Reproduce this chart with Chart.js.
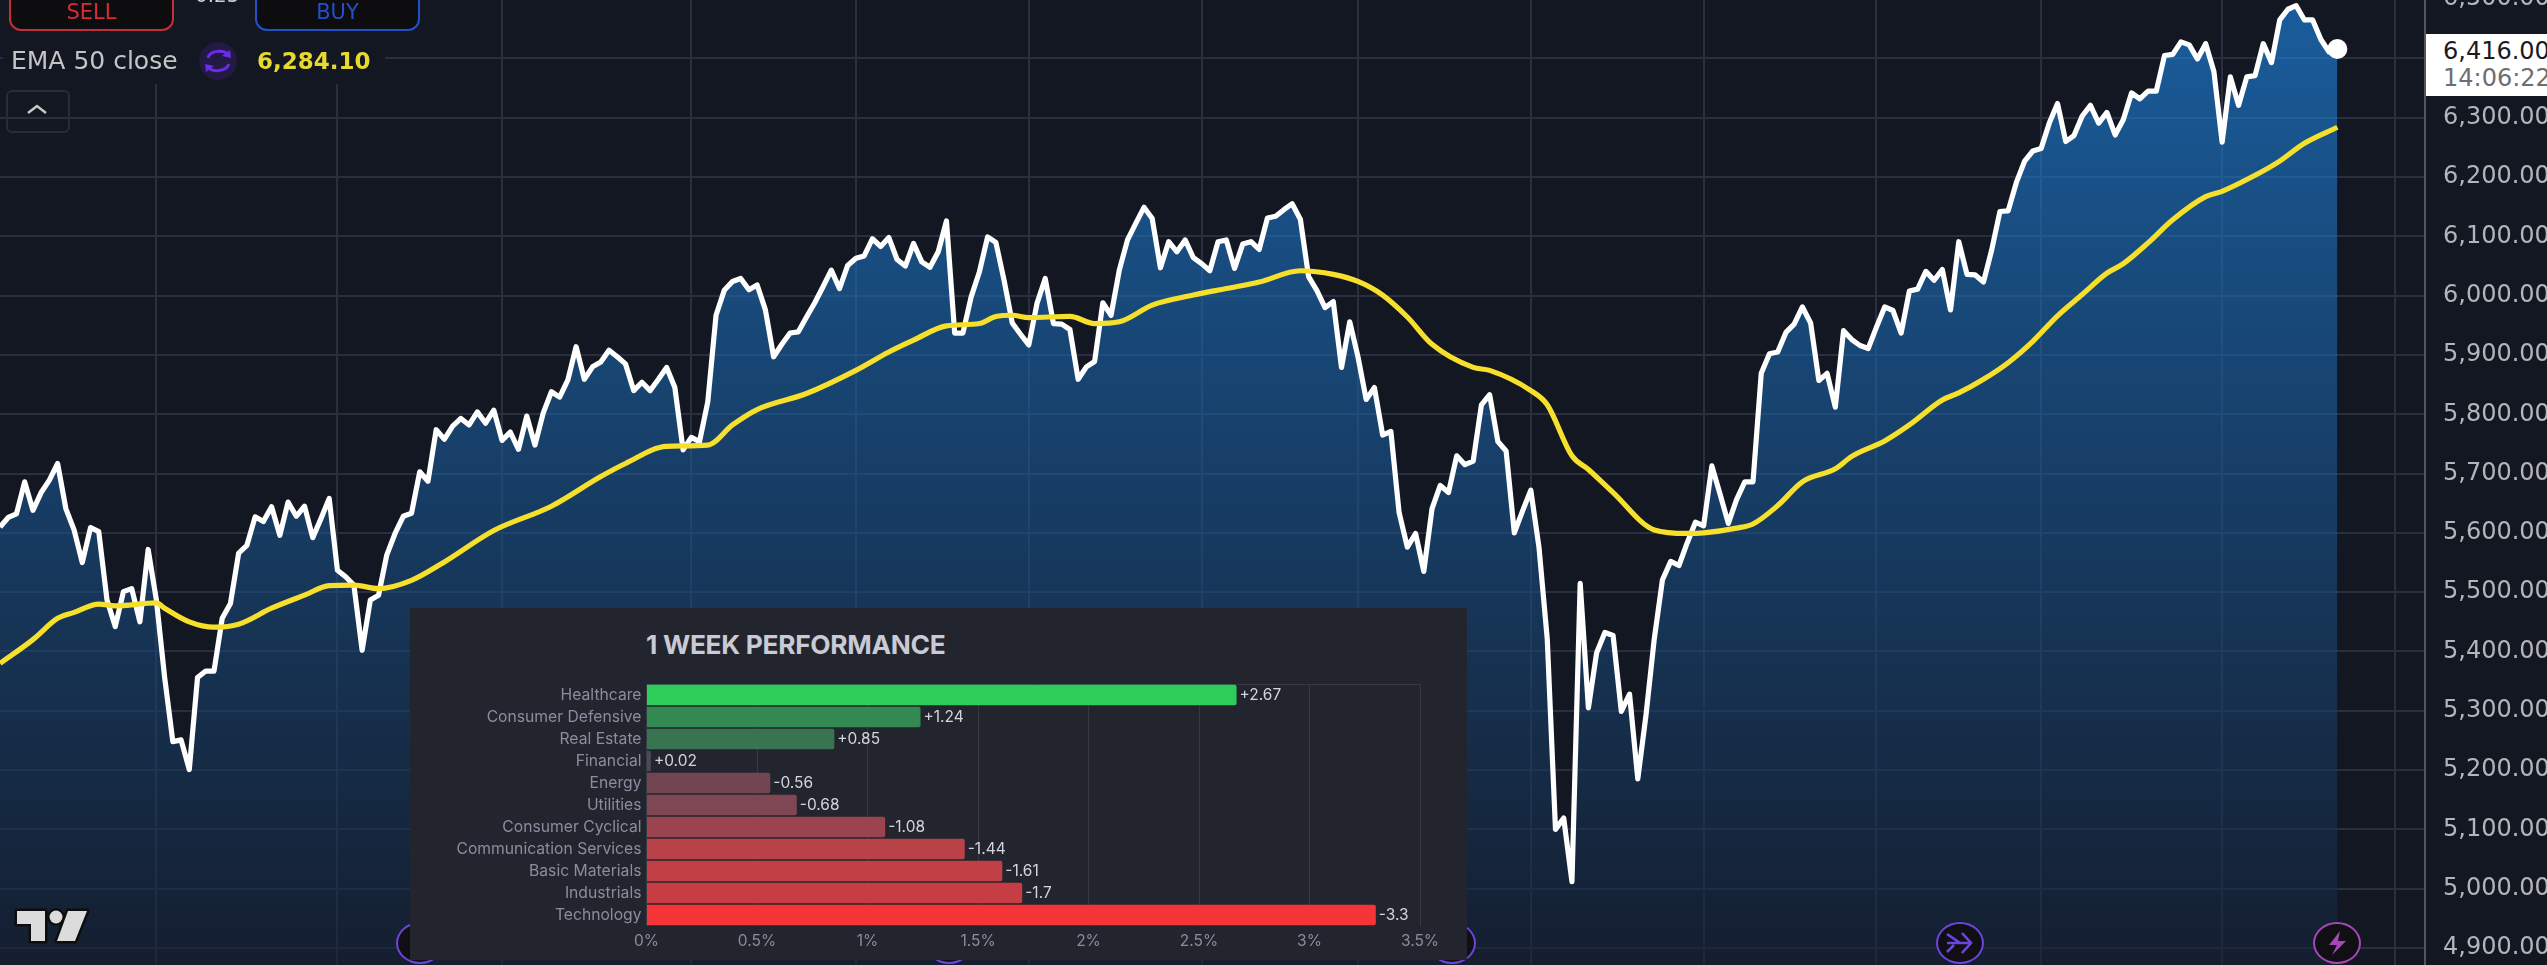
<!DOCTYPE html>
<html>
<head>
<meta charset="utf-8">
<title>S&amp;P 500 with EMA 50</title>
<script src="https://cdn.jsdelivr.net/npm/chart.js@4/dist/chart.umd.min.js"></script>
<style>
  html, body { margin: 0; padding: 0; width: 2547px; height: 965px; overflow: hidden; background: #131722; }
  body { position: relative; font-family: "DejaVu Sans", sans-serif; }
  .abs { position: absolute; }
  #priceChart { position: absolute; left: 0; top: -30px; }
  .btn { position: absolute; top: -20px; width: 161px; height: 47px; border: 2px solid; border-radius: 12px; background: #0d0d0f;
         font-size: 21px; text-align: center; line-height: 60px; box-sizing: content-box; }
  .legendBack { left: 3px; top: 31px; width: 382px; height: 53px; background: #131722; }
  .round { position: absolute; top: 922px; width: 44px; height: 38px; border: 2px solid; border-radius: 50%; background: #101014; }
  #panel { left: 410px; top: 608px; width: 1057px; height: 352px; background: #22252d; }
  #panelTitle { position: absolute; left: 236px; top: 21px; font: bold 26.3px Inter, sans-serif; color: #c9cad6; letter-spacing: -0.3px; white-space: nowrap; }
  #perfChart { position: absolute; left: 0; top: 0; }
  #lastBox { left: 2426px; top: 34px; width: 121px; height: 62px; background: #fff; overflow: hidden; white-space: nowrap; }
</style>
</head>
<body>
<canvas id="priceChart" width="2547" height="995"></canvas>

<div class="abs" style="left:195px;top:-17px;color:#d0d0d0;font-size:20px;">0.25</div>
<div class="btn" style="left:9px;border-color:#c22f3d;color:#d92b36;">SELL</div>
<div class="btn" style="left:255px;border-color:#2350c8;color:#2350c8;">BUY</div>

<div class="abs legendBack"></div>
<div class="abs" style="left:11px;top:46px;color:#c4c4c6;font-size:25px;line-height:30px;white-space:nowrap;">EMA 50 close</div>
<svg class="abs" style="left:198px;top:42px;" width="40" height="38" viewBox="0 0 40 38">
  <circle cx="20" cy="19" r="19" fill="#221a42"/>
  <path d="M10 16 C12 8 27 7 31 14 M31 22 C28 30 13 31 9 24" fill="none" stroke="#6a2cf0" stroke-width="3"/>
  <path d="M24 14 L33 16 L32 8 Z M16 24 L7 22 L8 30 Z" fill="#6a2cf0"/>
</svg>
<div class="abs" style="left:257px;top:46px;color:#e8d92e;font-size:23px;font-weight:bold;line-height:30px;">6,284.10</div>
<div class="abs" style="left:6px;top:90px;width:60px;height:39px;border:2px solid #2a2c32;border-radius:6px;"></div>
<svg class="abs" style="left:26px;top:103px;" width="22" height="12"><path d="M2 10 L11 3 L20 10" fill="none" stroke="#c8c8c8" stroke-width="2.5"/></svg>

<div class="abs" id="lastBox">
  <div class="abs" style="left:17px;top:2px;color:#1b1b1f;font-size:24px;line-height:30px;">6,416.00</div>
  <div class="abs" style="left:17px;top:30px;color:#6e6e72;font-size:24px;line-height:28px;">14:06:22</div>
</div>

<svg class="abs" style="left:10px;top:904px;" width="85" height="44" viewBox="10 904 85 44">
  <g fill="#dcdcdc" stroke="#0e0e10" stroke-width="5" paint-order="stroke" stroke-linejoin="round">
    <path d="M17 911 H45 V941 H31 V924 H17 Z"/>
    <circle cx="56" cy="917" r="6.5"/>
    <path d="M68 911 H87 L75 941 H57 Z"/>
  </g>
</svg>

<div class="round" style="left:396px;border-color:#6a45e0;"></div>
<div class="round" style="left:925px;border-color:#6a45e0;"></div>
<div class="round" style="left:1428px;border-color:#6a45e0;"></div>
<div class="round" style="left:1936px;border-color:#6a45e0;">
  <svg width="44" height="38"><path d="M9 10 L22 19 L9 19 M9 28 L16 21 M24 9 L33 19 L24 29 M10 19 H33" fill="none" stroke="#6a45e0" stroke-width="2.6"/></svg>
</div>
<div class="round" style="left:2313px;border-color:#a647b8;">
  <svg width="44" height="38"><path d="M25 7 L14 21 H22 L17 31 L31 17 H23 Z" fill="#a647b8"/></svg>
</div>

<div class="abs" id="panel">
  <div id="panelTitle">1 WEEK PERFORMANCE</div>
  <canvas id="perfChart" width="1057" height="352"></canvas>
</div>

<script>
// closes, one per session
const closeValues = [
  5610, 5626, 5632, 5686, 5638, 5668, 5689, 5717, 5641, 5605,
  5550, 5609, 5602, 5487, 5442, 5501, 5506, 5450, 5572, 5487,
  5357, 5248, 5251, 5201, 5356, 5367, 5367, 5456, 5481, 5566,
  5579, 5627, 5619, 5644, 5596, 5652, 5628, 5645, 5592, 5624,
  5658, 5537, 5526, 5512, 5402, 5487, 5495, 5563, 5599, 5628,
  5633, 5703, 5687, 5774, 5758, 5780, 5793, 5782, 5804, 5785,
  5807, 5756, 5770, 5741, 5797, 5748, 5802, 5838, 5829, 5858,
  5914, 5859, 5880, 5888, 5908, 5897, 5885, 5840, 5854, 5840,
  5859, 5879, 5845, 5740, 5761, 5754, 5821, 5967, 6009, 6024,
  6029, 6010, 6018, 5976, 5897, 5918, 5937, 5939, 5964, 5988,
  6015, 6043, 6012, 6051, 6063, 6067, 6096, 6083, 6098, 6061,
  6050, 6088, 6057, 6048, 6074, 6126, 5937, 5937, 5998, 6040,
  6099, 6090, 6026, 5954, 5935, 5917, 5987, 6029, 5953, 5952,
  5943, 5859, 5880, 5889, 5988, 5967, 6043, 6094, 6122, 6149,
  6130, 6047, 6091, 6074, 6094, 6064, 6054, 6042, 6091, 6094,
  6046, 6087, 6091, 6078, 6131, 6134, 6145, 6155, 6129, 6032,
  6009, 5980, 5990, 5879, 5956, 5897, 5825, 5845, 5765, 5771,
  5634, 5576, 5599, 5535, 5641, 5680, 5668, 5730, 5715, 5721,
  5816, 5833, 5754, 5738, 5600, 5637, 5672, 5575, 5421, 5100,
  5119, 5012, 5515, 5305, 5398, 5432, 5427, 5299, 5328, 5185,
  5293, 5421, 5521, 5552, 5545, 5583, 5618, 5612, 5713, 5665,
  5616, 5656, 5686, 5686, 5869, 5902, 5905, 5938, 5952, 5981,
  5954, 5857, 5869, 5812, 5941, 5926, 5916, 5911, 5947, 5981,
  5975, 5937, 6008, 6011, 6041, 6026, 6044, 5976, 6091, 6036,
  6035, 6023, 6077, 6142, 6143, 6191, 6227, 6244, 6248, 6291,
  6324, 6260, 6270, 6303, 6321, 6291, 6309, 6271, 6297, 6342,
  6332, 6345, 6345, 6405, 6407, 6428, 6423, 6399, 6425, 6378,
  6259, 6369, 6321, 6369, 6371, 6425, 6393, 6465, 6483, 6489,
  6465, 6465, 6432, 6411, 6416
];

// EMA 50 read at its bends
const emaSessions = [0, 4, 7, 9, 12, 14, 19, 20, 23, 26, 29, 33, 37, 40, 43, 46, 50, 54, 60, 67, 73, 76, 81, 86, 89, 92, 98, 104, 108, 111, 115, 119, 121, 123, 125, 130, 133, 136, 140, 145, 149, 153, 158, 162, 165, 168, 171, 174, 179, 181, 186, 188, 191, 193, 196, 201, 205, 207, 211, 213, 216, 219, 223, 225, 229, 232, 236, 238, 241, 244, 247, 250, 253, 256, 258, 261, 264, 268, 270, 274, 277, 280, 284];
const emaValues = [5380, 5420, 5456, 5466, 5480, 5477, 5482, 5473, 5450, 5441, 5446, 5473, 5495, 5511, 5512, 5506, 5520, 5551, 5604, 5645, 5695, 5717, 5746, 5748, 5782, 5808, 5835, 5874, 5905, 5925, 5949, 5953, 5965, 5967, 5963, 5965, 5953, 5956, 5984, 6001, 6012, 6023, 6042, 6036, 6024, 6001, 5964, 5918, 5879, 5874, 5840, 5816, 5730, 5707, 5668, 5605, 5599, 5600, 5608, 5615, 5646, 5686, 5708, 5729, 5755, 5782, 5824, 5836, 5859, 5887, 5923, 5966, 6002, 6038, 6054, 6089, 6128, 6167, 6176, 6203, 6227, 6257, 6284];

// first session of each month, these carry the vertical grid lines
const monthStarts = [19, 41, 61, 84, 104, 125, 146, 165, 186, 207, 228, 248, 270, 291];
const priceTicks = [4900, 5000, 5100, 5200, 5300, 5400, 5500, 5600, 5700, 5800, 5900, 6000, 6100, 6200, 6300, 6400, 6500];

const sectors = ['Healthcare', 'Consumer Defensive', 'Real Estate', 'Financial', 'Energy', 'Utilities', 'Consumer Cyclical', 'Communication Services', 'Basic Materials', 'Industrials', 'Technology'];
const sectorChange = [2.67, 1.24, 0.85, 0.02, -0.56, -0.68, -1.08, -1.44, -1.61, -1.7, -3.3];
const sectorColors = ['#2ecd5a', '#338952', '#37744f', '#474a57', '#734552', '#7e4753', '#9b444f', '#b94148', '#c04046', '#c63e44', '#f53438'];
const perfTicks = [0, 0.5, 1, 1.5, 2, 2.5, 3, 3.5];

const createGradient = (ctx, height) => {
  const gradient = ctx.createLinearGradient(0, 0, 0, height);
  gradient.addColorStop(0, 'rgba(31,143,244,0.6)');
  gradient.addColorStop(1, 'rgba(22,35,57,0.6)');
  return gradient;
};

const priceCtx = document.getElementById('priceChart').getContext('2d');

new Chart(priceCtx, {
  type: 'line',
  data: {
    datasets: [
      {
        label: 'EMA 50 close',
        data: emaSessions.map((s, i) => ({ x: s, y: emaValues[i] })),
        borderColor: '#f7e02b',
        borderWidth: 5.2,
        cubicInterpolationMode: 'monotone',
        pointRadius: 0,
        fill: false,
        order: 0,
      },
      {
        label: 'Close',
        data: closeValues.map((v, i) => ({ x: i, y: v })),
        borderColor: '#ffffff',
        borderWidth: 5.2,
        borderJoinStyle: 'round',
        backgroundColor: createGradient(priceCtx, 995),
        pointRadius: (c) => (c.dataIndex === closeValues.length - 1 ? 10 : 0),
        pointBackgroundColor: '#ffffff',
        pointBorderWidth: 0,
        fill: 'start',
        order: 1,
      },
    ],
  },
  options: {
    responsive: false,
    animation: false,
    layout: { padding: 0, autoPadding: false },
    plugins: { legend: { display: false }, tooltip: { enabled: false } },
    scales: {
      x: {
        type: 'linear',
        min: 0,
        max: 294.65,
        afterBuildTicks: (scale) => { scale.ticks = monthStarts.map((v) => ({ value: v })); },
        afterFit: (scale) => { scale.height = 0; scale.paddingLeft = 0; scale.paddingRight = 0; },
        ticks: { display: false },
        border: { display: false },
        grid: { color: '#2a2e3e', lineWidth: 2, drawTicks: false },
      },
      y: {
        position: 'right',
        min: 4871.3,
        max: 6549.2,
        afterBuildTicks: (scale) => { scale.ticks = priceTicks.map((v) => ({ value: v })); },
        afterFit: (scale) => { scale.width = 122; scale.paddingTop = 0; scale.paddingBottom = 0; },
        ticks: {
          padding: 18,
          color: '#b4b5b8',
          font: { family: 'DejaVu Sans', size: 24 },
          callback: (v) => v.toLocaleString('en-US', { minimumFractionDigits: 2, maximumFractionDigits: 2 }),
        },
        border: { color: '#54565c', width: 2 },
        grid: { color: '#2a2e3e', lineWidth: 2, drawTicks: false },
      },
    },
  },
});

// value text at the end of each bar
const barValueLabels = {
  id: 'barValueLabels',
  afterDatasetsDraw(chart) {
    const { ctx } = chart;
    const bars = chart.getDatasetMeta(0).data;
    ctx.save();
    ctx.font = '15.5px Inter, sans-serif';
    ctx.fillStyle = '#d4d5dc';
    ctx.textBaseline = 'middle';
    bars.forEach((bar, i) => {
      const v = sectorChange[i];
      ctx.fillText((v > 0 ? '+' : '') + v, bar.x + 3, bar.y);
    });
    ctx.restore();
  },
};

new Chart(document.getElementById('perfChart').getContext('2d'), {
  type: 'bar',
  data: {
    labels: sectors,
    datasets: [
      {
        data: sectorChange.map((v) => Math.abs(v)),
        backgroundColor: sectorColors,
        borderRadius: 2,
        barPercentage: 0.94,
        categoryPercentage: 1,
      },
    ],
  },
  plugins: [barValueLabels],
  options: {
    indexAxis: 'y',
    responsive: false,
    animation: false,
    layout: { padding: { top: 76, right: 47, left: 0, bottom: 0 }, autoPadding: false },
    plugins: { legend: { display: false }, tooltip: { enabled: false } },
    scales: {
      x: {
        min: 0,
        max: 3.5,
        afterBuildTicks: (scale) => { scale.ticks = perfTicks.map((v) => ({ value: v })); },
        afterFit: (scale) => { scale.height = 34; scale.paddingLeft = 0; scale.paddingRight = 0; },
        ticks: {
          color: '#8b8d9e',
          padding: 6,
          maxRotation: 0,
          font: { family: 'Inter', size: 15.5 },
          callback: (v) => v + '%',
        },
        border: { display: false },
        grid: { color: '#363944', lineWidth: 1, drawTicks: false },
      },
      y: {
        afterFit: (scale) => { scale.width = 236.5; scale.paddingTop = 0; scale.paddingBottom = 0; },
        ticks: {
          color: '#8b8d9e',
          padding: 5,
          autoSkip: false,
          font: { family: 'Inter', size: 15.7 },
        },
        border: { display: false },
        grid: {
          offset: true,
          drawTicks: false,
          color: (c) => (c.index === 0 || c.index === sectors.length ? '#363944' : 'transparent'),
        },
      },
    },
  },
});
</script>
</body>
</html>
